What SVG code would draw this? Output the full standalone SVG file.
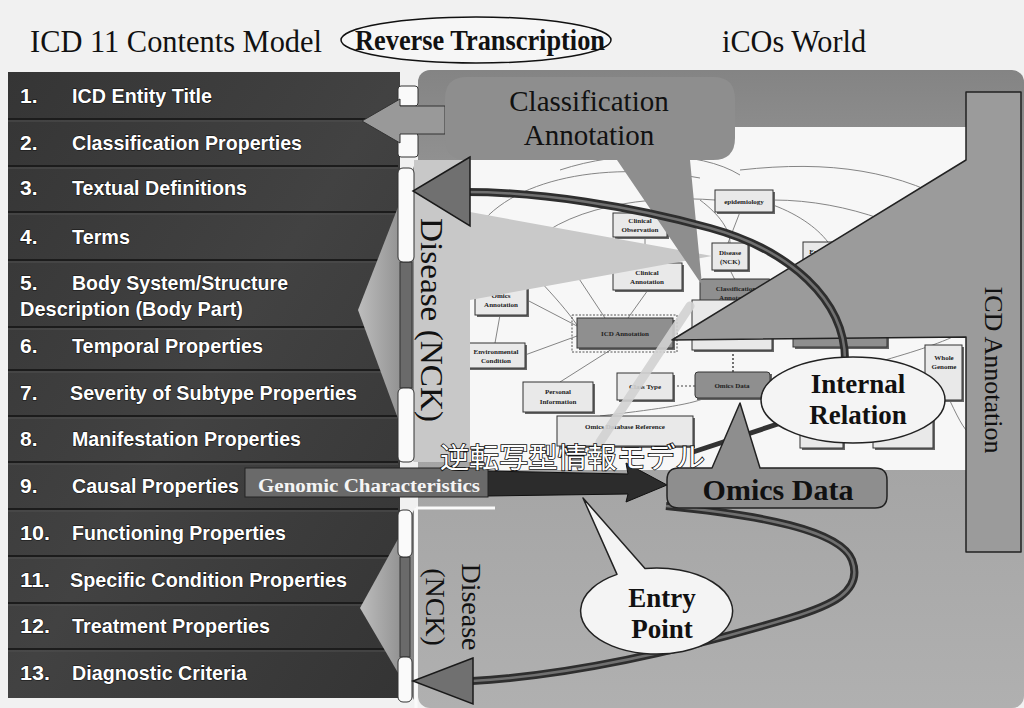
<svg xmlns="http://www.w3.org/2000/svg" width="1024" height="708" viewBox="0 0 1024 708">
<defs>
<style>
.ttl{font-family:"Liberation Serif","Times New Roman",serif;fill:#111}
.it{font-family:"Liberation Sans",Arial,sans-serif;font-weight:bold;font-size:21px;fill:#fff;stroke:#111;stroke-width:1.2;paint-order:stroke}
.sep{stroke:#1c1c1c;stroke-width:2}
.sep2{stroke:#505050;stroke-width:1}
.n{fill:#e9e9e9;stroke:#333;stroke-width:1}
.nd{fill:#8f8f8f;stroke:#333;stroke-width:1}
.sh{fill:#666}
.nt{font-family:"Liberation Serif","Times New Roman",serif;font-size:7px;fill:#222;text-anchor:middle;font-weight:bold}
.fl{fill:none;stroke:#777;stroke-width:0.9}
.big{font-family:"Liberation Serif","Times New Roman",serif;font-weight:bold;fill:#111;text-anchor:middle}
.tab{fill:#fafafa;stroke:#333;stroke-width:1}
</style>
<linearGradient id="gbg" x1="0" y1="0" x2="0" y2="1">
<stop offset="0" stop-color="#848484"/>
<stop offset="0.25" stop-color="#9a9a9a"/>
<stop offset="1" stop-color="#b0b0b0"/>
</linearGradient>
<linearGradient id="gchev" x1="0" y1="0" x2="1" y2="0">
<stop offset="0" stop-color="#bdbdbd"/>
<stop offset="1" stop-color="#858585"/>
</linearGradient>
<linearGradient id="gpanel" x1="0" y1="0" x2="1" y2="1">
<stop offset="0" stop-color="#353535"/>
<stop offset="0.5" stop-color="#424242"/>
<stop offset="1" stop-color="#343434"/>
</linearGradient>
</defs>

<rect id="background" x="0" y="0" width="1024" height="708" fill="#f1f1f1"/>

<g id="titles">
<text class="ttl" x="30" y="52" font-size="32" textLength="292" lengthAdjust="spacingAndGlyphs">ICD 11 Contents Model</text>
<g id="reverse-transcription">
<ellipse cx="476" cy="40" rx="135" ry="23" fill="#f6f6f6" stroke="#111" stroke-width="1.5"/>
<text class="ttl" x="355" y="50" font-size="30" font-weight="bold" textLength="250" lengthAdjust="spacingAndGlyphs">Reverse Transcription</text>
</g>
<text class="ttl" x="722" y="52" font-size="32" textLength="144" lengthAdjust="spacingAndGlyphs">iCOs World</text>
</g>

<!-- iCOs world gray area -->
<g id="icos-area">
<rect x="418" y="70" width="606" height="638" rx="12" fill="url(#gbg)"/>
<rect x="470" y="127" width="496" height="343" fill="#f7f7f7"/>
</g>

<!-- screenshot inner diagram -->
<g id="inner-diagram">
<path class="fl" d="M470,240 C500,180 600,160 700,178"/>
<path class="fl" d="M520,255 C560,205 650,195 715,200"/>
<path class="fl" d="M560,170 C620,150 700,150 740,175"/>
<path class="fl" d="M740,170 C830,160 900,170 966,210"/>
<path class="fl" d="M773,200 C850,200 920,230 966,262"/>
<path class="fl" d="M773,205 C800,215 820,230 830,245"/>
<path class="fl" d="M700,200 C720,215 730,230 730,243"/>
<path class="fl" d="M490,230 C520,260 560,300 577,325"/>
<path class="fl" d="M527,300 L577,326"/>
<path class="fl" d="M525,355 L577,336"/>
<path class="fl" d="M500,315 L495,343"/>
<path class="fl" d="M560,382 L612,349"/>
<path class="fl" d="M645,237 L645,263"/>
<path class="fl" d="M648,290 L628,318"/>
<path class="fl" d="M560,250 L605,318"/>
<path class="fl" d="M740,212 L728,243"/>
<path class="fl" d="M730,270 L735,280"/>
<path class="fl" d="M600,416 C650,410 690,405 705,398"/>
<path class="fl" d="M885,360 C920,350 950,340 966,330"/>
<path class="fl" d="M940,380 C950,400 958,420 966,430"/>
<line x1="673" y1="386" x2="695" y2="386" stroke="#444" stroke-width="1.2" stroke-dasharray="2,2"/>
<line x1="733" y1="350" x2="733" y2="372" stroke="#444" stroke-width="1.5" stroke-dasharray="2,2"/>

<g id="n-epidemiology"><rect class="sh" x="717" y="192" width="58" height="22"/><rect class="n" x="715" y="190" width="58" height="22"/><text class="nt" x="744" y="204">epidemiology</text></g>
<g id="n-clinical-observation"><rect class="sh" x="615" y="215" width="54" height="24"/><rect class="n" x="613" y="213" width="54" height="24"/><text class="nt" x="640" y="223">Clinical</text><text class="nt" x="640" y="232">Observation</text></g>
<g id="n-disease-nck"><rect class="sh" x="714" y="245" width="36" height="27"/><rect class="n" x="712" y="243" width="36" height="27"/><text class="nt" x="730" y="255">Disease</text><text class="nt" x="730" y="264">(NCK)</text></g>
<g id="n-experiment"><rect class="sh" x="805" y="244" width="48" height="26"/><rect class="n" x="803" y="242" width="48" height="26"/><text class="nt" x="827" y="254">Experiment</text></g>
<g id="n-clinical-annotation"><rect class="sh" x="615" y="265" width="69" height="27"/><rect class="n" x="613" y="263" width="69" height="27"/><text class="nt" x="647" y="275">Clinical</text><text class="nt" x="647" y="284">Annotation</text></g>
<g id="n-classification-annotation"><rect class="sh" x="702" y="281" width="72" height="29"/><rect class="nd" x="700" y="279" width="72" height="29" rx="3"/><text class="nt" x="736" y="291">Classification</text><text class="nt" x="736" y="300">Annotation</text></g>
<g id="n-omics-annotation"><rect class="sh" x="477" y="282" width="52" height="35"/><rect class="n" x="475" y="280" width="52" height="35"/><text class="nt" x="501" y="298">Omics</text><text class="nt" x="501" y="307">Annotation</text></g>
<g id="n-environmental"><rect class="sh" x="470" y="345" width="57" height="25"/><rect class="n" x="468" y="343" width="57" height="25"/><text class="nt" x="496" y="354">Environmental</text><text class="nt" x="496" y="363">Condition</text></g>
<g id="n-box-a"><rect class="sh" x="694" y="302" width="80" height="50"/><rect class="n" x="692" y="300" width="80" height="50"/></g>
<g id="n-box-b"><rect class="sh" x="795" y="322" width="94" height="27"/><rect class="nd" x="793" y="320" width="94" height="27"/></g>
<g id="n-icd-annotation"><rect x="572" y="315" width="105" height="37" fill="none" stroke="#555" stroke-width="1" stroke-dasharray="2,1.5"/><rect class="sh" x="579" y="320" width="96" height="30"/><rect class="nd" x="577" y="318" width="96" height="30"/><text class="nt" x="625" y="336">ICD Annotation</text></g>
<g id="n-personal-information"><rect class="sh" x="525" y="384" width="70" height="30"/><rect class="n" x="523" y="382" width="70" height="30"/><text class="nt" x="558" y="394">Personal</text><text class="nt" x="558" y="404">Information</text></g>
<g id="n-class-type"><rect class="sh" x="619" y="375" width="56" height="27"/><rect class="n" x="617" y="373" width="56" height="27"/><text class="nt" x="645" y="389">Class Type</text></g>
<g id="n-omics-data"><rect class="sh" x="697" y="374" width="75" height="26"/><rect class="nd" x="695" y="372" width="75" height="26" rx="3"/><text class="nt" x="732" y="388">Omics Data</text></g>
<g id="n-omics-db-ref"><rect class="sh" x="559" y="418" width="136" height="30"/><rect class="n" x="557" y="416" width="136" height="30"/><text class="nt" x="625" y="429">Omics Database Reference</text></g>
<g id="n-whole-genome"><rect class="sh" x="927" y="347" width="37" height="55"/><rect class="n" x="925" y="345" width="37" height="55"/><text class="nt" x="944" y="360">Whole</text><text class="nt" x="944" y="369">Genome</text></g>
<g id="n-box-c"><rect class="sh" x="802" y="420" width="43" height="30"/><rect class="n" x="800" y="418" width="43" height="30"/></g>
<g id="n-box-d"><rect class="sh" x="875" y="420" width="60" height="30"/><rect class="n" x="873" y="418" width="60" height="30"/></g>
<line x1="600" y1="442" x2="690" y2="306" stroke="#d2d2d2" stroke-width="9" stroke-linecap="round" opacity="0.9"/>
<line x1="693" y1="452" x2="790" y2="420" stroke="#333" stroke-width="5"/>
</g>

<!-- ICD list panel -->
<g id="icd-list">
<rect x="8" y="72" width="392" height="626" fill="url(#gpanel)"/>
<g>
<line class="sep" x1="8" y1="119" x2="398" y2="119"/><line class="sep2" x1="8" y1="121" x2="398" y2="121"/>
<line class="sep" x1="8" y1="166" x2="398" y2="166"/><line class="sep2" x1="8" y1="168" x2="398" y2="168"/>
<line class="sep" x1="8" y1="212" x2="398" y2="212"/><line class="sep2" x1="8" y1="214" x2="398" y2="214"/>
<line class="sep" x1="8" y1="260" x2="398" y2="260"/><line class="sep2" x1="8" y1="262" x2="398" y2="262"/>
<line class="sep" x1="8" y1="327" x2="398" y2="327"/><line class="sep2" x1="8" y1="329" x2="398" y2="329"/>
<line class="sep" x1="8" y1="370" x2="398" y2="370"/><line class="sep2" x1="8" y1="372" x2="398" y2="372"/>
<line class="sep" x1="8" y1="416" x2="398" y2="416"/><line class="sep2" x1="8" y1="418" x2="398" y2="418"/>
<line class="sep" x1="8" y1="462" x2="398" y2="462"/><line class="sep2" x1="8" y1="464" x2="398" y2="464"/>
<line class="sep" x1="8" y1="509" x2="398" y2="509"/><line class="sep2" x1="8" y1="511" x2="398" y2="511"/>
<line class="sep" x1="8" y1="556" x2="398" y2="556"/><line class="sep2" x1="8" y1="558" x2="398" y2="558"/>
<line class="sep" x1="8" y1="603" x2="398" y2="603"/><line class="sep2" x1="8" y1="605" x2="398" y2="605"/>
<line class="sep" x1="8" y1="649" x2="398" y2="649"/><line class="sep2" x1="8" y1="651" x2="398" y2="651"/>
</g>
<g id="item-1"><text class="it" x="20" y="103">1.</text><text class="it" x="72" y="103" textLength="140" lengthAdjust="spacingAndGlyphs">ICD Entity Title</text></g>
<g id="item-2"><text class="it" x="20" y="150">2.</text><text class="it" x="72" y="150" textLength="230" lengthAdjust="spacingAndGlyphs">Classification Properties</text></g>
<g id="item-3"><text class="it" x="20" y="195">3.</text><text class="it" x="72" y="195" textLength="175" lengthAdjust="spacingAndGlyphs">Textual Definitions</text></g>
<g id="item-4"><text class="it" x="20" y="244">4.</text><text class="it" x="72" y="244" textLength="58" lengthAdjust="spacingAndGlyphs">Terms</text></g>
<g id="item-5"><text class="it" x="20" y="290">5.</text><text class="it" x="72" y="290" textLength="216" lengthAdjust="spacingAndGlyphs">Body System/Structure</text><text class="it" x="20" y="316" textLength="223" lengthAdjust="spacingAndGlyphs">Description (Body Part)</text></g>
<g id="item-6"><text class="it" x="20" y="353">6.</text><text class="it" x="72" y="353" textLength="191" lengthAdjust="spacingAndGlyphs">Temporal Properties</text></g>
<g id="item-7"><text class="it" x="20" y="400">7.</text><text class="it" x="70" y="400" textLength="287" lengthAdjust="spacingAndGlyphs">Severity of Subtype Properties</text></g>
<g id="item-8"><text class="it" x="20" y="446">8.</text><text class="it" x="72" y="446" textLength="229" lengthAdjust="spacingAndGlyphs">Manifestation Properties</text></g>
<g id="item-9"><text class="it" x="20" y="493">9.</text><text class="it" x="72" y="493" textLength="167" lengthAdjust="spacingAndGlyphs">Causal Properties</text></g>
<g id="item-10"><text class="it" x="20" y="540" textLength="30" lengthAdjust="spacingAndGlyphs">10.</text><text class="it" x="72" y="540" textLength="214" lengthAdjust="spacingAndGlyphs">Functioning Properties</text></g>
<g id="item-11"><text class="it" x="20" y="587" textLength="30" lengthAdjust="spacingAndGlyphs">11.</text><text class="it" x="70" y="587" textLength="277" lengthAdjust="spacingAndGlyphs">Specific Condition Properties</text></g>
<g id="item-12"><text class="it" x="20" y="633" textLength="30" lengthAdjust="spacingAndGlyphs">12.</text><text class="it" x="72" y="633" textLength="198" lengthAdjust="spacingAndGlyphs">Treatment Properties</text></g>
<g id="item-13"><text class="it" x="20" y="680" textLength="30" lengthAdjust="spacingAndGlyphs">13.</text><text class="it" x="72" y="680" textLength="175" lengthAdjust="spacingAndGlyphs">Diagnostic Criteria</text></g>
</g>

<!-- Disease (NCK) upper -->
<g id="disease-nck-upper">
<polygon points="470,212 712,256 470,300" fill="#c9c9c9"/>
<polygon points="414,166 358,310 414,462" fill="url(#gchev)"/>
<rect x="414" y="160" width="56" height="302" fill="#c8c8c8"/>
<rect x="400" y="262" width="12" height="126" fill="#6a6a6a" stroke="#333" stroke-width="1"/>
<rect class="tab" x="398" y="168" width="16" height="94" rx="5"/>
<rect class="tab" x="398" y="388" width="16" height="74" rx="5"/>
<text class="ttl" transform="translate(421,320) rotate(90)" font-size="31" text-anchor="middle" textLength="204" lengthAdjust="spacingAndGlyphs" fill="#222">Disease (NCK)</text>
</g>

<!-- Disease (NCK) lower -->
<g id="disease-nck-lower">
<polygon points="414,510 360,608 414,700" fill="url(#gchev)"/>
<line x1="416" y1="508" x2="495" y2="508" stroke="#fafafa" stroke-width="3"/>
<line x1="416" y1="508" x2="416" y2="708" stroke="#fafafa" stroke-width="3"/>
<rect x="400" y="557" width="10" height="100" fill="#6a6a6a" stroke="#333" stroke-width="1"/>
<rect class="tab" x="398" y="510" width="14" height="47" rx="5"/>
<rect class="tab" x="398" y="657" width="14" height="45" rx="5"/>
<text class="ttl" transform="translate(462,607) rotate(90)" font-size="28" text-anchor="middle" fill="#222">Disease</text>
<text class="ttl" transform="translate(426,607) rotate(90)" font-size="28" text-anchor="middle" fill="#222">(NCK)</text>
</g>

<!-- white tabs at top of the panel edge -->
<g id="edge-tabs">
<rect class="tab" x="398" y="86" width="20" height="20" rx="3"/>
<rect class="tab" x="398" y="133" width="20" height="24" rx="3"/>
</g>

<!-- ICD Annotation callout -->
<g id="icd-annotation">
<path d="M966,92 H1021 V552 H966 V337 L672,340 L966,160 Z" fill="#9b9b9b" stroke="#222" stroke-width="1.5" stroke-linejoin="round"/>
<text class="ttl" transform="translate(985,370) rotate(90)" font-size="26" text-anchor="middle" fill="#222">ICD Annotation</text>
</g>

<!-- Classification Annotation callout -->
<g id="classification-annotation">
<path d="M445,106 H400 V99 L362,121 L400,143 V134 H445 Z" fill="#999" stroke="#333" stroke-width="1"/>
<path d="M467,77 H713 Q735,77 735,99 V138 Q735,160 713,160 H690 L702,285 L617,160 H467 Q445,160 445,138 V99 Q445,77 467,77 Z" fill="#8e8e8e"/>
<text class="ttl" x="589" y="111" font-size="29" text-anchor="middle" fill="#222">Classification</text>
<text class="ttl" x="589" y="145" font-size="29" text-anchor="middle" fill="#222">Annotation</text>
</g>

<!-- connectors -->
<g id="connectors">
<path d="M845,360 C845,300 790,250 710,228 C630,206 540,192 466,192" fill="none" stroke="#2e2e2e" stroke-width="8"/>
<path d="M845,360 C845,300 790,250 710,228 C630,206 540,192 466,192" fill="none" stroke="#707070" stroke-width="2.5"/>
<polygon points="470,157 413,191 470,226" fill="#707070" stroke="#1a1a1a" stroke-width="1.5"/>
<path d="M666,506 C760,515 840,530 852,560 C864,592 830,606 790,618 C700,645 580,675 472,681" fill="none" stroke="#2e2e2e" stroke-width="8"/>
<path d="M666,506 C760,515 840,530 852,560 C864,592 830,606 790,618 C700,645 580,675 472,681" fill="none" stroke="#707070" stroke-width="2.5"/>
<polygon points="473,658 413,681 473,704" fill="#707070" stroke="#1a1a1a" stroke-width="1.5"/>
<path d="M487,471 L628,474 L626,463 L667,485 L626,502 L628,494 L487,496 Z" fill="#2c2c2c" stroke="#111" stroke-width="1"/>
</g>

<!-- Genomic Characteristics -->
<g id="genomic-characteristics">
<rect x="245" y="468" width="243" height="29" fill="#6a6a6a" stroke="#222" stroke-width="1"/>
<text x="258" y="492" font-family="Liberation Serif,Times New Roman,serif" font-weight="bold" font-size="18" fill="#f4f4f4" textLength="222" lengthAdjust="spacingAndGlyphs">Genomic Characteristics</text>
</g>

<!-- Japanese label -->
<g id="reverse-model-label">
<text x="440" y="468" font-family="Noto Sans CJK JP,sans-serif" font-size="28" fill="#ffffff" stroke="#111" stroke-width="1.6" paint-order="stroke" textLength="265" lengthAdjust="spacingAndGlyphs">逆転写型情報モデル</text>
</g>

<!-- Omics Data callout -->
<g id="omics-data">
<path d="M679,468 H712 L740,403 L760,468 H875 Q887,468 887,480 V496 Q887,508 875,508 H679 Q667,508 667,496 V480 Q667,468 679,468 Z" fill="#8e8e8e" stroke="#222" stroke-width="1.5" stroke-linejoin="round"/>
<text class="big" x="778" y="500" font-size="30">Omics Data</text>
</g>

<!-- Internal Relation -->
<g id="internal-relation">
<ellipse cx="853" cy="400" rx="92" ry="43" fill="#f4f4f4" stroke="#222" stroke-width="1.5"/>
<text class="big" x="858" y="393" font-size="27">Internal</text>
<text class="big" x="858" y="424" font-size="27">Relation</text>
</g>

<!-- Entry Point -->
<g id="entry-point">
<path d="M617,574.4 L583,498 L645,568.6 A76,43 0 1 1 617,574.4 Z" fill="#f4f4f4" stroke="#222" stroke-width="1.5" stroke-linejoin="round"/>
<text class="big" x="662" y="607" font-size="27">Entry</text>
<text class="big" x="662" y="638" font-size="27">Point</text>
</g>
</svg>
